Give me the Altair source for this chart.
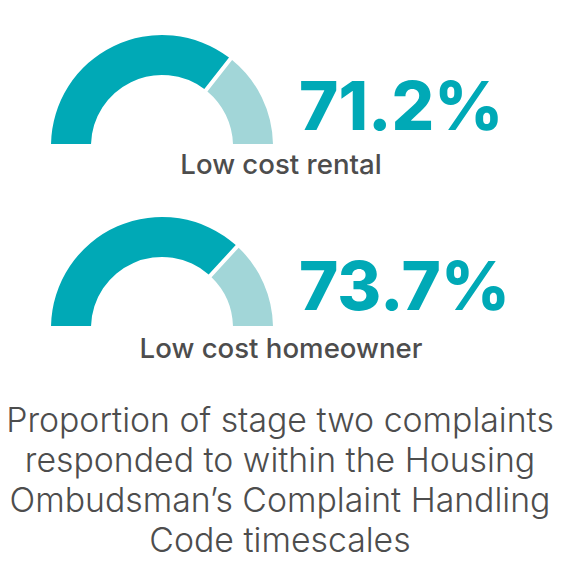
import math
import altair as alt
import pandas as pd

categories = ["Low cost rental", "Low cost homeowner"]
percentages = [71.2, 73.7]
pct_labels = ["71.2%", "73.7%"]
caption_lines = [
    "Proportion of stage two complaints",
    "responded to within the Housing",
    "Ombudsman\u2019s Complaint Handling",
    "Code timescales",
]

DARK = "#00A9B6"
LIGHT = "#A2D6D8"
GREY = "#4D4D4D"

rows = []
for cat, p in zip(categories, percentages):
    rows.append({"category": cat, "part": "Within", "value": p, "ord": 0})
    rows.append({"category": cat, "part": "Outside", "value": round(100 - p, 1), "ord": 1})
df = pd.DataFrame(rows)

theta_scale = alt.Scale(domain=[0, 100], range=[1.5 * math.pi, 2.5 * math.pi])
color_scale = alt.Scale(domain=["Within", "Outside"], range=[DARK, LIGHT])

base = alt.Chart(df)

centers_y = [146, 328]
pct_y = [130, 310]
label_y = [174, 358]

layers = []
for cat, cy, lab, py, ly in zip(categories, centers_y, pct_labels, pct_y, label_y):
    arc = base.transform_filter(alt.datum.category == cat).mark_arc(
        outerRadius=111, innerRadius=71, padAngle=0.03
    ).encode(
        theta=alt.Theta("value:Q", scale=theta_scale, stack=True),
        color=alt.Color("part:N", scale=color_scale, legend=None),
        order=alt.Order("ord:Q"),
        x=alt.value(162),
        y=alt.value(cy),
    )
    layers.append(arc)
    txt = alt.Chart(pd.DataFrame({"t": [lab]})).mark_text(
        font="Inter", fontWeight=800, fontSize=67, color=DARK,
        align="left", baseline="alphabetic"
    ).encode(text="t:N", x=alt.value(299), y=alt.value(py))
    layers.append(txt)
    lbl = alt.Chart(pd.DataFrame({"t": [cat]})).mark_text(
        font="Inter", fontWeight=500, fontSize=27.6, color=GREY,
        align="center", baseline="alphabetic"
    ).encode(text="t:N", x=alt.value(281), y=alt.value(ly))
    layers.append(lbl)

caption = alt.Chart(pd.DataFrame({"k": [0]})).mark_text(
    font="Inter", fontWeight=300, fontSize=33.8, color=GREY,
    align="center", baseline="alphabetic", lineHeight=40
).encode(text=alt.value(caption_lines), x=alt.value(280), y=alt.value(432))
layers.append(caption)

chart = alt.layer(*layers).properties(
    width=561, height=561, padding=0, autosize="none", background="white"
).configure_view(stroke=None)

chart.save("out.html", embed_options={"renderer": "svg", "actions": False})
